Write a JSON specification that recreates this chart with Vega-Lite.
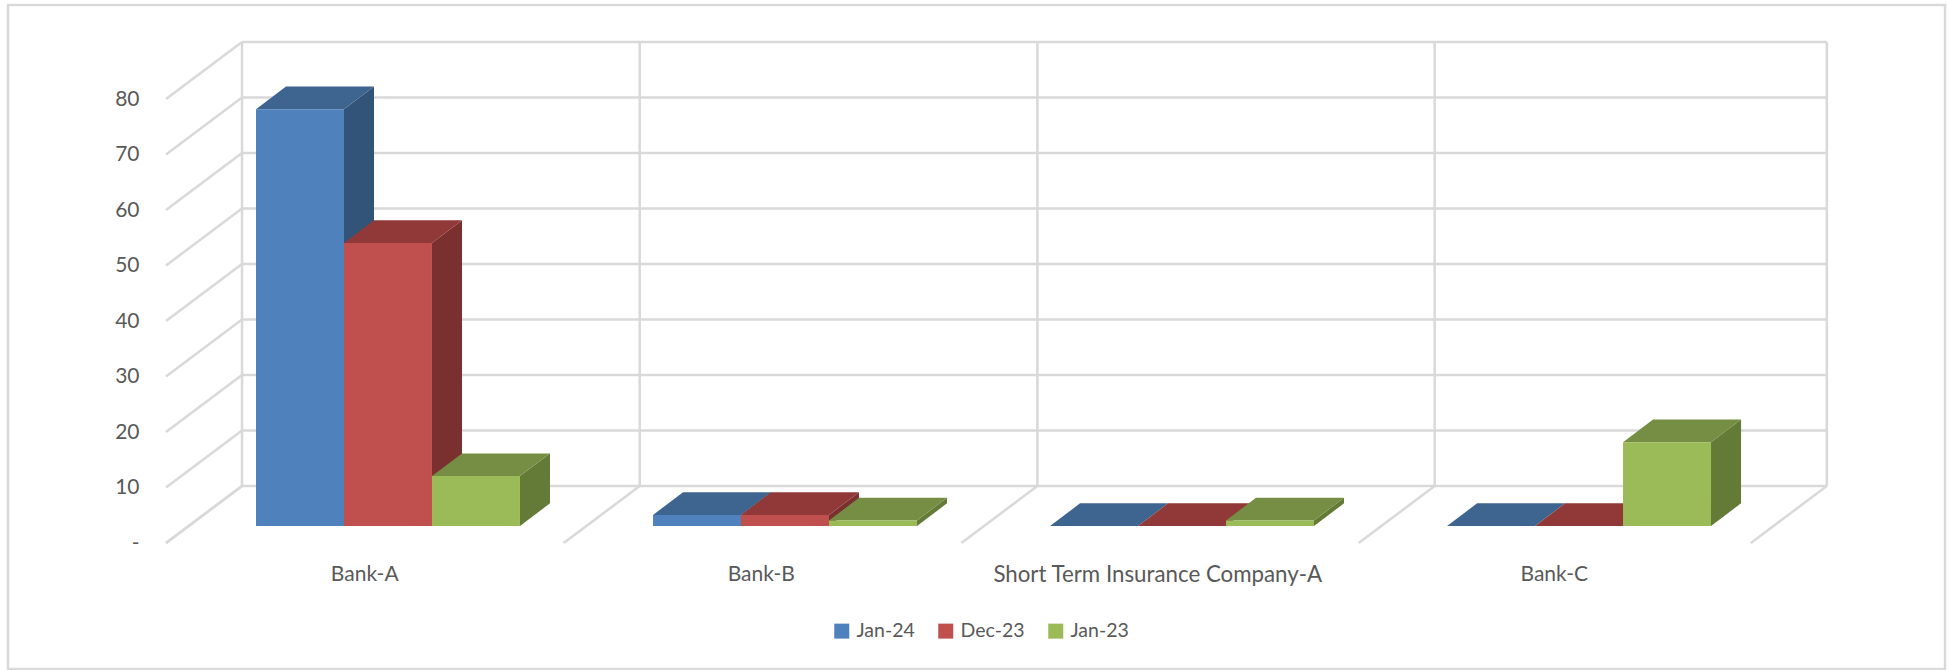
{
"$schema":"https://vega.github.io/schema/vega-lite/v6.json",
"width":1937,"height":664,
"autosize":{"type":"none"},
"padding":{"left":8,"top":5,"right":4,"bottom":1},
"background":"#ffffff",
"view":{"stroke":"#d9d9d9","strokeWidth":2.5,"fill":"#ffffff"},
"config":{"font":"Lato"},
"params":[
{"name":"wallX","value":0.19168},
{"name":"wallY","value":10.27},
{"name":"barW","value":0.2219},
{"name":"barStart","value":0.227},
{"name":"baseY","value":3.06},
{"name":"depthX","value":0.0757},
{"name":"depthY","value":4.09}
],
"datasets":{
"bars":[
{"bank":"Bank-A","series":"Jan-24","value":75.1},
{"bank":"Bank-A","series":"Dec-23","value":51},
{"bank":"Bank-A","series":"Jan-23","value":9},
{"bank":"Bank-B","series":"Jan-24","value":2},
{"bank":"Bank-B","series":"Dec-23","value":2},
{"bank":"Bank-B","series":"Jan-23","value":1},
{"bank":"Short Term Insurance Company-A","series":"Jan-24","value":0},
{"bank":"Short Term Insurance Company-A","series":"Dec-23","value":0},
{"bank":"Short Term Insurance Company-A","series":"Jan-23","value":1},
{"bank":"Bank-C","series":"Jan-24","value":0},
{"bank":"Bank-C","series":"Dec-23","value":0},
{"bank":"Bank-C","series":"Jan-23","value":15.1}
],
"ticks":[{"tick":0},{"tick":10},{"tick":20},{"tick":30},{"tick":40},{"tick":50},{"tick":60},{"tick":70},{"tick":80}],
"cats":[{"cat":0},{"cat":1.003},{"cat":2.006},{"cat":3.008},{"cat":3.997}]
},
"layer":[
{"data":{"name":"ticks"},
"transform":[{"calculate":"datum.tick+wallY","as":"back"},{"calculate":"wallX","as":"x0"},{"calculate":"3.997+wallX","as":"x1"}],
"mark":{"type":"rule","color":"#d9d9d9","strokeWidth":2.5},
"encoding":{
"x":{"field":"x0","type":"quantitative","title":null,"scale":{"domain":[-0.3985,4.4867],"nice":false,"zero":false},
"axis":{"values":[0.5,1.5,2.5,3.5],"labelExpr":"['Bank-A','Bank-B','Short Term Insurance Company-A','Bank-C'][floor(datum.value)]","offset":-106,"domain":false,"ticks":false,"grid":false,"labelFontSize":{"condition":{"test":"datum.value===2.5","value":22.3},"value":21},"labelColor":"#595959","labelFont":"Lato","labelOverlap":false,"labelFlush":false,"labelBound":false,"labelPadding":0,"labelLimit":600,"title":null,"zindex":1}},
"x2":{"field":"x1"},
"y":{"field":"back","type":"quantitative","title":null,"scale":{"domain":[-22.7,96.94],"nice":false,"zero":false},
"axis":{"values":[0,10,20,30,40,50,60,70,80],"labelExpr":"datum.value===0?'-\u00a0\u00a0\u00a0\u00a0\u00a0':datum.label","offset":-131,"domain":false,"ticks":false,"grid":false,"labelFontSize":21,"labelColor":"#595959","labelFont":"Lato","labelOverlap":false,"labelFlush":false,"labelBound":false,"labelPadding":0,"title":null,"zindex":1}}
}},
{"data":{"name":"ticks"},
"transform":[{"calculate":"datum.tick+wallY","as":"back"},{"calculate":"wallX","as":"x1"},{"calculate":"0","as":"x0"}],
"mark":{"type":"rule","color":"#d9d9d9","strokeWidth":2.5},
"encoding":{
"x":{"field":"x0","type":"quantitative","title":null,"scale":{"domain":[-0.3985,4.4867],"nice":false,"zero":false}},
"x2":{"field":"x1"},
"y":{"field":"tick","type":"quantitative","title":null,"scale":{"domain":[-22.7,96.94],"nice":false,"zero":false}},
"y2":{"field":"back"}
}},
{"data":{"name":"cats"},
"transform":[{"calculate":"datum.cat+wallX","as":"x1"},{"calculate":"wallY","as":"y0"},{"calculate":"80+wallY","as":"y1"}],
"mark":{"type":"rule","color":"#d9d9d9","strokeWidth":2.5},
"encoding":{
"x":{"field":"x1","type":"quantitative","title":null,"scale":{"domain":[-0.3985,4.4867],"nice":false,"zero":false}},
"y":{"field":"y0","type":"quantitative","title":null,"scale":{"domain":[-22.7,96.94],"nice":false,"zero":false}},
"y2":{"field":"y1"}
}},
{"data":{"name":"cats"},
"transform":[{"calculate":"datum.cat+wallX","as":"x1"},{"calculate":"0","as":"y0"},{"calculate":"wallY","as":"y1"}],
"mark":{"type":"rule","color":"#d9d9d9","strokeWidth":2.5},
"encoding":{
"x":{"field":"cat","type":"quantitative","title":null,"scale":{"domain":[-0.3985,4.4867],"nice":false,"zero":false}},
"x2":{"field":"x1"},
"y":{"field":"y0","type":"quantitative","title":null,"scale":{"domain":[-22.7,96.94],"nice":false,"zero":false}},
"y2":{"field":"y1"}
}},
{"data":{"name":"bars"},
"transform":[
{"calculate":"indexof(['Bank-A','Bank-B','Short Term Insurance Company-A','Bank-C'],datum.bank)","as":"ci"},
{"calculate":"indexof(['Jan-24','Dec-23','Jan-23'],datum.series)","as":"si"},
{"calculate":"datum.ci*1.0013+barStart+(datum.si+1)*barW","as":"xR"},
{"calculate":"[0,1]","as":"pt"},
{"flatten":["pt"]},
{"calculate":"datum.xR+datum.pt*depthX","as":"sx"},
{"calculate":"baseY+datum.pt*depthY","as":"sy0"},
{"calculate":"baseY+datum.value+datum.pt*depthY","as":"sy1"}
],
"mark":{"type":"area","interpolate":"linear"},
"encoding":{
"x":{"field":"sx","type":"quantitative","title":null,"scale":{"domain":[-0.3985,4.4867],"nice":false,"zero":false}},
"y":{"field":"sy0","type":"quantitative","title":null,"stack":null,"scale":{"domain":[-22.7,96.94],"nice":false,"zero":false}},
"y2":{"field":"sy1"},
"detail":{"field":"bank"},
"color":{"field":"series","type":"nominal","legend":null,"scale":{"domain":["Jan-24","Dec-23","Jan-23"],"range":["#325479","#7a302f","#647a37"]}}
}},
{"data":{"name":"bars"},
"transform":[
{"calculate":"indexof(['Bank-A','Bank-B','Short Term Insurance Company-A','Bank-C'],datum.bank)","as":"ci"},
{"calculate":"indexof(['Jan-24','Dec-23','Jan-23'],datum.series)","as":"si"},
{"calculate":"datum.ci*1.0013+barStart+datum.si*barW","as":"xL"},
{"calculate":"[0,1]","as":"pt"},
{"flatten":["pt"]},
{"calculate":"datum.xL+datum.pt*depthX","as":"tx0"},
{"calculate":"datum.xL+barW+datum.pt*depthX","as":"tx1"},
{"calculate":"baseY+datum.value+datum.pt*depthY","as":"ty"}
],
"mark":{"type":"area","orient":"horizontal","interpolate":"linear"},
"encoding":{
"y":{"field":"ty","type":"quantitative","title":null,"scale":{"domain":[-22.7,96.94],"nice":false,"zero":false}},
"x":{"field":"tx0","type":"quantitative","title":null,"stack":null,"scale":{"domain":[-0.3985,4.4867],"nice":false,"zero":false}},
"x2":{"field":"tx1"},
"detail":{"field":"bank"},
"color":{"field":"series","type":"nominal","legend":null,"scale":{"domain":["Jan-24","Dec-23","Jan-23"],"range":["#3e6490","#913938","#758e43"]}}
}},
{"data":{"name":"bars"},
"transform":[
{"calculate":"indexof(['Bank-A','Bank-B','Short Term Insurance Company-A','Bank-C'],datum.bank)","as":"ci"},
{"calculate":"indexof(['Jan-24','Dec-23','Jan-23'],datum.series)","as":"si"},
{"calculate":"datum.ci*1.0013+barStart+datum.si*barW","as":"xL"},
{"calculate":"datum.xL+barW","as":"xR"},
{"calculate":"baseY","as":"y0"},
{"calculate":"baseY+datum.value","as":"y1"}
],
"mark":{"type":"rect"},
"encoding":{
"x":{"field":"xL","type":"quantitative","title":null,"scale":{"domain":[-0.3985,4.4867],"nice":false,"zero":false}},
"x2":{"field":"xR"},
"y":{"field":"y0","type":"quantitative","title":null,"scale":{"domain":[-22.7,96.94],"nice":false,"zero":false}},
"y2":{"field":"y1"},
"color":{"field":"series","type":"nominal","scale":{"domain":["Jan-24","Dec-23","Jan-23"],"range":["#4f81bd","#c0504d","#9bbb59"]},
"legend":{"orient":"none","direction":"horizontal","legendX":824,"legendY":616,"title":null,"symbolType":"square","symbolSize":225,"symbolStrokeWidth":0,"symbolOpacity":1,"labelFontSize":19.5,"labelColor":"#595959","labelFont":"Lato","labelOffset":5,"columnPadding":21,"padding":0}}
}}
],
"resolve":{"scale":{"color":"independent"}}
}
